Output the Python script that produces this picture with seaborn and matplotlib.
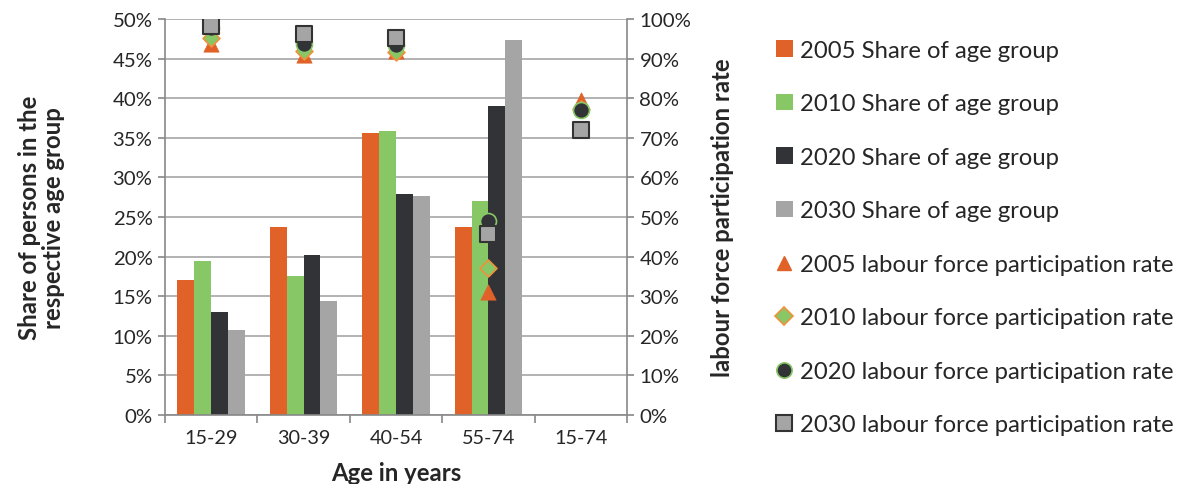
import numpy as np
import pandas as pd
import matplotlib
matplotlib.use("Agg")
import matplotlib.pyplot as plt
import seaborn as sns
from matplotlib.lines import Line2D
from matplotlib.patches import Patch
from matplotlib.ticker import PercentFormatter, MultipleLocator

categories = ["15-29", "30-39", "40-54", "55-74", "15-74"]
bar_categories = ["15-29", "30-39", "40-54", "55-74"]

share_2005 = [17.1, 23.8, 35.6, 23.7]
share_2010 = [19.5, 17.6, 35.9, 27.0]
share_2020 = [13.0, 20.2, 27.9, 39.0]
share_2030 = [10.7, 14.4, 27.6, 47.3]

lfpr_2005 = [93.8, 90.8, 92.0, 31.0, 79.5]
lfpr_2010 = [95.1, 91.8, 91.7, 37.2, 77.2]
lfpr_2020 = [97.8, 93.7, 93.4, 49.0, 77.0]
lfpr_2030 = [98.3, 96.1, 95.1, 45.6, 72.0]

share_labels = ["2005 Share of age group", "2010 Share of age group",
                "2020 Share of age group", "2030 Share of age group"]
lfpr_labels = ["2005 labour force participation rate", "2010 labour force participation rate",
               "2020 labour force participation rate", "2030 labour force participation rate"]

c_orange = "#E06228"
c_green = "#88C766"
c_dark = "#323337"
c_grey = "#A5A5A5"
bar_colors = [c_orange, c_green, c_dark, c_grey]

sns.set_theme(style="white")
plt.rcParams["font.family"] = ["Lato", "DejaVu Sans"]
txt = "#262626"

rows = []
for lab, vals in zip(share_labels, [share_2005, share_2010, share_2020, share_2030]):
    for cat, v in zip(bar_categories, vals):
        rows.append({"cat": cat, "series": lab, "value": v})
df = pd.DataFrame(rows)

fig = plt.figure(figsize=(11.82, 4.85), dpi=100)
ax = fig.add_axes([165/1182, 1-416/485, (627-165)/1182, (416-20)/485])

sns.barplot(data=df, x="cat", y="value", hue="series", order=categories,
            hue_order=share_labels, palette=bar_colors, width=0.73, gap=0,
            saturation=1, ax=ax, legend=False, linewidth=0)

ax.set_ylim(0, 50)
ax.set_xlim(-0.5, 4.5)
ax.yaxis.set_major_locator(MultipleLocator(5))
ax.yaxis.set_major_formatter(PercentFormatter(decimals=0))
ax.grid(axis="y", color="#A6A6A6", linewidth=1.2)
ax.set_axisbelow(True)
ax.spines["top"].set_visible(False)
ax.spines["right"].set_visible(False)
ax.spines["left"].set_color("#888888")
ax.spines["bottom"].set_color("#888888")
ax.spines["left"].set_linewidth(1.2)
ax.spines["bottom"].set_linewidth(1.2)

ax.set_xticks(range(len(categories)))
ax.set_xticklabels(categories)
ax.set_xticks(np.arange(-0.5, len(categories)), minor=True)
ax.tick_params(axis="x", which="major", length=0, pad=10, labelsize=14.3, labelcolor=txt)
ax.tick_params(axis="x", which="minor", length=6, color="#888888", width=1.2, direction="out", bottom=True)
ax.tick_params(axis="y", length=5, color="#888888", width=1.2, direction="out", left=True,
               labelsize=14.7, labelcolor=txt, pad=4)
ax.set_xlabel("Age in years", fontsize=17.2, fontweight="bold", color=txt, labelpad=11)
ax.set_ylabel("Share of persons in the\nrespective age group", fontsize=17.2,
              fontweight="bold", color=txt, labelpad=34, linespacing=1.05)

ax2 = ax.twinx()
ax2.set_ylim(0, 100)
marker_specs = [
    (lfpr_2005, "^", c_orange, c_orange, 11, 0.5),
    (lfpr_2010, "D", c_green, "#F0913C", 8.6, 1.2),
    (lfpr_2020, "o", c_dark, c_green, 11.5, 1.2),
    (lfpr_2030, "s", c_grey, "#333333", 12, 1.5),
]
for vals, mk, fc, ec, sz, lw in marker_specs:
    sns.stripplot(x=categories, y=vals, order=categories, ax=ax2, jitter=False,
                  marker=mk, color=fc, edgecolor=ec, linewidth=lw, size=sz, zorder=5)
ax2.set_xlim(-0.5, 4.5)
ax2.yaxis.set_major_locator(MultipleLocator(10))
ax2.yaxis.set_major_formatter(PercentFormatter(decimals=0))
for s in ["top", "left", "bottom"]:
    ax2.spines[s].set_visible(False)
ax2.spines["right"].set_color("#888888")
ax2.spines["right"].set_linewidth(1.2)
ax2.tick_params(axis="y", length=5, color="#888888", width=1.2, direction="out", right=True,
                labelsize=14.7, labelcolor=txt, pad=4)
ax2.set_ylabel("labour force participation rate", fontsize=17.2, fontweight="bold",
               color=txt, labelpad=14)
ax2.grid(False)

handles = [Patch(facecolor=c, edgecolor="none") for c in bar_colors]
handles += [
    Line2D([], [], linestyle="none", marker="^", markerfacecolor=c_orange, markeredgecolor=c_orange, markersize=10),
    Line2D([], [], linestyle="none", marker="D", markerfacecolor=c_green, markeredgecolor="#F0913C", markersize=9, markeredgewidth=1.2),
    Line2D([], [], linestyle="none", marker="o", markerfacecolor=c_dark, markeredgecolor=c_green, markersize=11, markeredgewidth=1.2),
    Line2D([], [], linestyle="none", marker="s", markerfacecolor=c_grey, markeredgecolor="#333333", markersize=11, markeredgewidth=1.5),
]
leg = fig.legend(handles, share_labels + lfpr_labels, loc="upper left",
                 bbox_to_anchor=(776/1182, 1-41/485), frameon=False, fontsize=17.2,
                 labelspacing=1.36, handlelength=0.7, handleheight=0.7, handletextpad=0.3,
                 borderaxespad=0, borderpad=0)
for t in leg.get_texts():
    t.set_color(txt)

fig.savefig("out.png", dpi=100)
